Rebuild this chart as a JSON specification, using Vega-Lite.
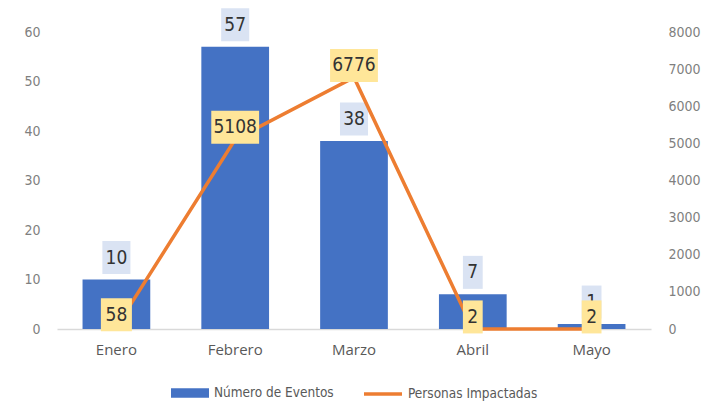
{
  "$schema": "https://vega.github.io/schema/vega-lite/v6.json",
  "width": 594,
  "height": 297,
  "autosize": "none",
  "padding": {"left": 57, "top": 32, "right": 64, "bottom": 79},
  "background": "white",
  "data": {
    "values": [
      {"mes": "Enero", "eventos": 10, "personas": 58},
      {"mes": "Febrero", "eventos": 57, "personas": 5108},
      {"mes": "Marzo", "eventos": 38, "personas": 6776},
      {"mes": "Abril", "eventos": 7, "personas": 2},
      {"mes": "Mayo", "eventos": 1, "personas": 2}
    ]
  },
  "config": {
    "view": {"stroke": null},
    "axis": {"grid": false, "ticks": false, "title": null},
    "legend": {
      "orient": "bottom",
      "direction": "horizontal",
      "labelFont": "DejaVu Sans Condensed, Roboto",
      "labelFontSize": 13.5,
      "labelColor": "#595959",
      "symbolSize": 1444,
      "labelOffset": 4,
      "symbolOpacity": 1,
      "offset": 16,
      "layout": {"bottom": {"direction": "horizontal", "anchor": "middle", "margin": 28}}
    }
  },
  "encoding": {
    "x": {
      "field": "mes",
      "type": "nominal",
      "sort": null,
      "scale": {"paddingInner": 0.43, "paddingOuter": 0.215},
      "axis": {
        "labelAngle": 0,
        "labelFont": "Open Sans",
        "labelFontSize": 15,
        "labelColor": "#595959",
        "labelPadding": 13,
        "domainColor": "#D9D9D9",
        "domainWidth": 1.5,
        "title": null
      }
    }
  },
  "layer": [
    {
      "encoding": {
        "y": {
          "field": "eventos",
          "type": "quantitative",
          "scale": {"domain": [0, 60]},
          "axis": {
            "orient": "left",
            "values": [0, 10, 20, 30, 40, 50, 60],
            "domain": false,
            "labelFont": "DejaVu Sans Condensed, Roboto",
            "labelFontSize": 14,
            "labelColor": "#7F7F7F",
            "labelPadding": 17,
            "title": null
          }
        }
      },
      "layer": [
        {
          "mark": {"type": "bar"},
          "encoding": {
            "color": {
              "datum": "Número de Eventos",
              "type": "nominal",
              "scale": {"range": ["#4472C4"]},
              "legend": {"title": null, "symbolType": "M-1,-0.25H1V0.25H-1Z"}
            }
          }
        },
        {
          "mark": {"type": "point", "filled": true, "fill": "#DAE3F3", "opacity": 1, "strokeWidth": 0},
          "encoding": {
            "yOffset": {"value": -22},
            "size": {"value": 1089},
            "shape": {
              "condition": {"test": "datum.eventos < 10", "value": "M-0.6,-1H0.6V1H-0.6Z"},
              "value": "M-0.85,-1H0.85V1H-0.85Z"
            }
          }
        },
        {
          "mark": {"type": "text", "font": "DejaVu Sans Condensed, Roboto", "fontSize": 19, "color": "#333333", "dy": -22, "baseline": "middle"},
          "encoding": {"text": {"field": "eventos", "type": "quantitative"}}
        }
      ]
    },
    {
      "encoding": {
        "y": {
          "field": "personas",
          "type": "quantitative",
          "scale": {"domain": [0, 8000]},
          "axis": {
            "orient": "right",
            "values": [0, 1000, 2000, 3000, 4000, 5000, 6000, 7000, 8000],
            "format": "d",
            "domain": false,
            "labelFont": "DejaVu Sans Condensed, Roboto",
            "labelFontSize": 14,
            "labelColor": "#7F7F7F",
            "labelPadding": 17,
            "title": null
          }
        }
      },
      "layer": [
        {
          "mark": {"type": "line", "strokeWidth": 3.5},
          "encoding": {
            "stroke": {
              "datum": "Personas Impactadas",
              "type": "nominal",
              "scale": {"range": ["#ED7D31"]},
              "legend": {"title": null, "symbolType": "stroke", "symbolStrokeWidth": 3.5}
            }
          }
        },
        {
          "mark": {"type": "point", "filled": true, "fill": "#FFE699", "opacity": 1, "strokeWidth": 0},
          "encoding": {
            "yOffset": {"value": -12},
            "size": {"value": 1089},
            "shape": {
              "condition": [
                {"test": "datum.personas >= 1000", "value": "M-1.45,-1H1.45V1H-1.45Z"},
                {"test": "datum.personas >= 10", "value": "M-0.94,-1H0.94V1H-0.94Z"}
              ],
              "value": "M-0.6,-1H0.6V1H-0.6Z"
            }
          }
        },
        {
          "mark": {"type": "text", "font": "DejaVu Sans Condensed, Roboto", "fontSize": 19, "color": "#333333", "dy": -12, "baseline": "middle"},
          "encoding": {"text": {"field": "personas", "type": "quantitative", "format": "d"}}
        }
      ]
    }
  ],
  "resolve": {"scale": {"y": "independent"}}
}
